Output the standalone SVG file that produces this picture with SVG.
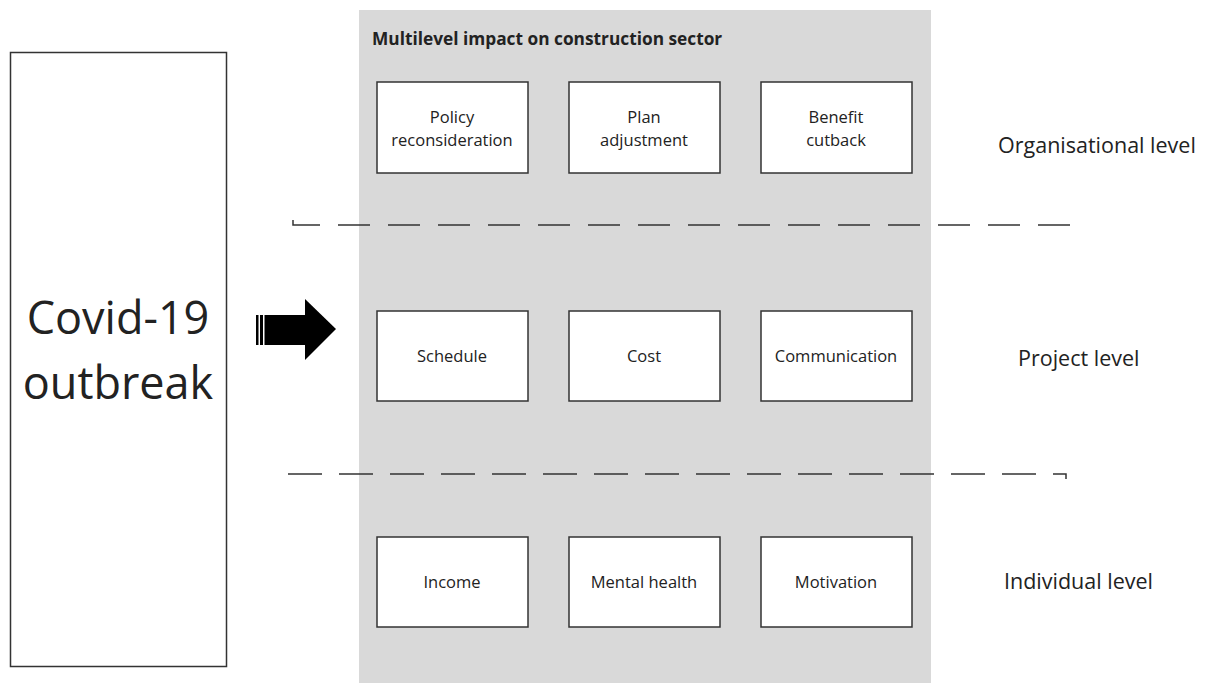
<svg xmlns="http://www.w3.org/2000/svg" width="1211" height="683" viewBox="0 0 1211 683">
<style>
.box{fill:#fff;stroke:#333;stroke-width:1.5}
.t{font-family:"Open Sans","Liberation Sans",sans-serif;font-size:16.5px;fill:#222;text-anchor:middle}
.lvl{font-family:"Open Sans","Liberation Sans",sans-serif;font-size:21.5px;fill:#222}
.dash{fill:none;stroke:#333;stroke-width:1.5}
</style>
<rect width="1211" height="683" fill="#fff"/>
<rect id="panel" x="359" y="10" width="572" height="673" fill="#d9d9d9"/>
<text x="372" y="45" font-family="Open Sans, Liberation Sans, sans-serif" font-size="17.3" font-weight="bold" fill="#222">Multilevel impact on construction sector</text>
<g id="covid">
<rect class="box" x="10.5" y="52.5" width="216" height="614"/>
<text class="t" x="118" y="334" style="font-size:45px">Covid-19</text>
<text class="t" x="118" y="399" style="font-size:45px">outbreak</text>
</g>
<g id="policy"><rect class="box" x="377" y="82" width="151" height="91"/><text class="t" x="452" y="123">Policy</text><text class="t" x="452" y="146">reconsideration</text></g>
<g id="plan"><rect class="box" x="569" y="82" width="151" height="91"/><text class="t" x="644" y="123">Plan</text><text class="t" x="644" y="146">adjustment</text></g>
<g id="benefit"><rect class="box" x="761" y="82" width="151" height="91"/><text class="t" x="836" y="123">Benefit</text><text class="t" x="836" y="146">cutback</text></g>
<g id="schedule"><rect class="box" x="377" y="311" width="151" height="90"/><text class="t" x="452" y="362">Schedule</text></g>
<g id="cost"><rect class="box" x="569" y="311" width="151" height="90"/><text class="t" x="644" y="362">Cost</text></g>
<g id="communication"><rect class="box" x="761" y="311" width="151" height="90"/><text class="t" x="836" y="362">Communication</text></g>
<g id="income"><rect class="box" x="377" y="537" width="151" height="90"/><text class="t" x="452" y="588">Income</text></g>
<g id="mental"><rect class="box" x="569" y="537" width="151" height="90"/><text class="t" x="644" y="588">Mental health</text></g>
<g id="motivation"><rect class="box" x="761" y="537" width="151" height="90"/><text class="t" x="836" y="588">Motivation</text></g>
<g id="levels">
<text class="lvl" x="998" y="153">Organisational level</text>
<text class="lvl" x="1018" y="366">Project level</text>
<text class="lvl" x="1004" y="589">Individual level</text>
</g>
<g id="connectors">
<path class="dash" d="M293 220 V225 H1072" style="stroke-dasharray:32 18"/>
<path class="dash" d="M288 474 H1066 V479" style="stroke-dasharray:34 17"/>
<g id="arrow" fill="#000">
<rect x="256" y="315" width="2.5" height="30"/>
<rect x="260" y="315" width="3" height="30"/>
<rect x="264.5" y="315" width="41" height="30"/>
<polygon points="305,299 336,329 305,360"/>
</g>
</g>
</svg>
